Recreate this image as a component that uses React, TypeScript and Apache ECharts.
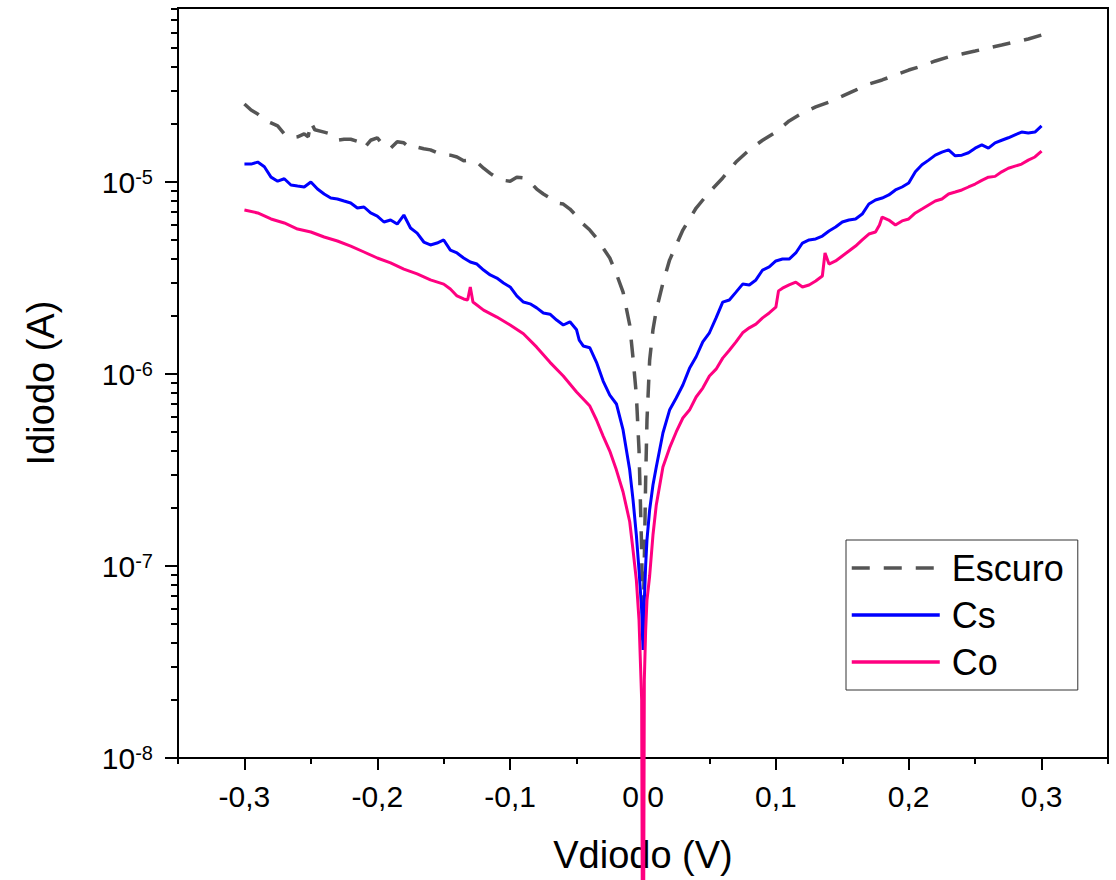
import React, { useEffect, useRef } from 'react';
import * as echarts from 'echarts';

const FONT = '"Liberation Sans", Arial, Helvetica, sans-serif';

const seriesNames = ['Escuro', 'Cs', 'Co'];
const seriesColors = ['#555555', '#0000ff', '#ff0080'];
const xMajorTicks = [-0.3, -0.2, -0.1, 0, 0.1, 0.2, 0.3];
const xMinorTicks = [-0.35, -0.25, -0.15, -0.05, 0.05, 0.15, 0.25, 0.35];
const yDecades = [1e-8, 1e-7, 1e-6, 1e-5];
const yMinorMultipliers = [2, 3, 4, 5, 6, 7, 8, 9];
const xRange = [-0.35, 0.35];
const yRange = [1e-8, 8.06e-5];

// [Vdiodo (V), Idiodo (A)]
const escuro: [number, number][] = [
  [-0.30, 2.55e-5], [-0.295, 2.37e-5], [-0.29, 2.26e-5], [-0.285, 2.10e-5], [-0.28, 2.03e-5],
  [-0.275, 1.96e-5], [-0.27, 1.78e-5], [-0.265, 1.70e-5], [-0.26, 1.72e-5], [-0.255, 1.78e-5],
  [-0.252, 1.72e-5], [-0.25, 2.05e-5], [-0.247, 1.87e-5], [-0.24, 1.82e-5], [-0.235, 1.78e-5],
  [-0.23, 1.65e-5], [-0.225, 1.67e-5], [-0.22, 1.67e-5], [-0.215, 1.63e-5], [-0.21, 1.50e-5],
  [-0.205, 1.65e-5], [-0.20, 1.70e-5], [-0.195, 1.54e-5], [-0.19, 1.50e-5], [-0.185, 1.62e-5],
  [-0.18, 1.60e-5], [-0.175, 1.50e-5], [-0.17, 1.52e-5], [-0.165, 1.49e-5], [-0.16, 1.47e-5],
  [-0.155, 1.42e-5], [-0.15, 1.38e-5], [-0.145, 1.38e-5], [-0.14, 1.35e-5], [-0.135, 1.29e-5],
  [-0.13, 1.30e-5], [-0.125, 1.27e-5], [-0.12, 1.18e-5], [-0.115, 1.11e-5], [-0.11, 1.05e-5],
  [-0.105, 1.02e-5], [-0.10, 1.01e-5], [-0.095, 1.06e-5], [-0.09, 1.05e-5], [-0.085, 1.00e-5],
  [-0.08, 9.19e-6], [-0.075, 8.66e-6], [-0.07, 8.25e-6], [-0.065, 7.77e-6], [-0.06, 7.68e-6],
  [-0.055, 7.23e-6], [-0.05, 6.65e-6], [-0.045, 6.04e-6], [-0.04, 5.62e-6], [-0.035, 5.11e-6],
  [-0.03, 4.53e-6], [-0.025, 4.02e-6], [-0.02, 3.32e-6], [-0.015, 2.67e-6], [-0.01, 1.80e-6],
  [-0.0075, 1.21e-6], [-0.005, 7.77e-7], [-0.003, 4.02e-7], [-0.001, 1.21e-7], [0, 4.1e-8],
  [0.001, 1.075e-7], [0.002, 2.81e-7], [0.003, 5.76e-7], [0.005, 1.18e-6], [0.0075, 1.70e-6],
  [0.01, 2.15e-6], [0.015, 2.98e-6], [0.02, 3.92e-6], [0.03, 5.62e-6], [0.04, 7.32e-6],
  [0.05, 8.87e-6], [0.06, 1.05e-5], [0.07, 1.27e-5], [0.08, 1.47e-5], [0.09, 1.65e-5],
  [0.10, 1.82e-5], [0.11, 2.08e-5], [0.12, 2.29e-5], [0.13, 2.46e-5], [0.14, 2.61e-5],
  [0.15, 2.80e-5], [0.16, 3.01e-5], [0.17, 3.24e-5], [0.18, 3.40e-5], [0.19, 3.61e-5],
  [0.20, 3.83e-5], [0.21, 4.02e-5], [0.22, 4.27e-5], [0.23, 4.48e-5], [0.24, 4.64e-5],
  [0.25, 4.81e-5], [0.26, 4.99e-5], [0.27, 5.17e-5], [0.28, 5.36e-5], [0.29, 5.56e-5],
  [0.30, 5.83e-5],
];

const cs: [number, number][] = [
  [-0.30, 1.24e-5], [-0.295, 1.24e-5], [-0.29, 1.27e-5], [-0.285, 1.20e-5], [-0.28, 1.06e-5],
  [-0.275, 1.01e-5], [-0.27, 1.04e-5], [-0.265, 9.65e-6], [-0.26, 9.53e-6], [-0.255, 9.42e-6],
  [-0.25, 1.00e-5], [-0.245, 9.19e-6], [-0.24, 8.66e-6], [-0.235, 8.25e-6], [-0.23, 8.16e-6],
  [-0.225, 7.96e-6], [-0.22, 7.77e-6], [-0.215, 7.32e-6], [-0.21, 7.41e-6], [-0.205, 6.90e-6],
  [-0.20, 6.65e-6], [-0.195, 6.19e-6], [-0.19, 6.34e-6], [-0.185, 6.04e-6], [-0.18, 6.73e-6],
  [-0.175, 5.76e-6], [-0.17, 5.42e-6], [-0.165, 4.87e-6], [-0.16, 4.70e-6], [-0.155, 4.81e-6],
  [-0.15, 4.99e-6], [-0.145, 4.42e-6], [-0.14, 4.27e-6], [-0.135, 4.02e-6], [-0.13, 3.83e-6],
  [-0.125, 3.74e-6], [-0.12, 3.48e-6], [-0.115, 3.28e-6], [-0.11, 3.16e-6], [-0.105, 2.98e-6],
  [-0.10, 2.84e-6], [-0.095, 2.55e-6], [-0.09, 2.37e-6], [-0.085, 2.32e-6], [-0.08, 2.21e-6],
  [-0.075, 2.08e-6], [-0.07, 2.05e-6], [-0.065, 1.91e-6], [-0.06, 1.80e-6], [-0.055, 1.87e-6],
  [-0.05, 1.70e-6], [-0.048, 1.50e-6], [-0.045, 1.40e-6], [-0.04, 1.37e-6], [-0.035, 1.15e-6],
  [-0.03, 9.19e-7], [-0.025, 7.77e-7], [-0.02, 6.98e-7], [-0.015, 5.11e-7], [-0.01, 3.16e-7],
  [-0.0075, 2.21e-7], [-0.005, 1.45e-7], [-0.003, 9.53e-8], [-0.001, 5.90e-8], [0, 3.65e-8],
  [0.001, 6.65e-8], [0.002, 1.01e-7], [0.003, 1.37e-7], [0.005, 1.96e-7], [0.0075, 2.64e-7],
  [0.01, 3.28e-7], [0.015, 4.93e-7], [0.02, 6.49e-7], [0.025, 7.50e-7], [0.03, 8.76e-7],
  [0.035, 1.07e-6], [0.04, 1.23e-6], [0.045, 1.47e-6], [0.05, 1.64e-6], [0.055, 1.96e-6],
  [0.06, 2.37e-6], [0.065, 2.43e-6], [0.07, 2.67e-6], [0.075, 2.94e-6], [0.08, 2.91e-6],
  [0.085, 3.09e-6], [0.09, 3.48e-6], [0.095, 3.61e-6], [0.10, 3.88e-6], [0.105, 3.97e-6],
  [0.11, 3.97e-6], [0.115, 4.27e-6], [0.12, 4.81e-6], [0.125, 4.99e-6], [0.13, 5.05e-6],
  [0.135, 5.23e-6], [0.14, 5.56e-6], [0.145, 5.83e-6], [0.15, 6.19e-6], [0.155, 6.34e-6],
  [0.16, 6.42e-6], [0.165, 6.81e-6], [0.17, 7.68e-6], [0.175, 8.06e-6], [0.18, 8.25e-6],
  [0.185, 8.56e-6], [0.19, 9.09e-6], [0.195, 9.42e-6], [0.20, 9.88e-6], [0.205, 1.13e-5],
  [0.21, 1.23e-5], [0.215, 1.30e-5], [0.22, 1.38e-5], [0.225, 1.43e-5], [0.23, 1.47e-5],
  [0.235, 1.37e-5], [0.24, 1.38e-5], [0.245, 1.42e-5], [0.25, 1.50e-5], [0.255, 1.56e-5],
  [0.26, 1.50e-5], [0.265, 1.60e-5], [0.27, 1.65e-5], [0.275, 1.70e-5], [0.28, 1.76e-5],
  [0.285, 1.82e-5], [0.29, 1.80e-5], [0.295, 1.82e-5], [0.30, 1.96e-5],
];

const co: [number, number][] = [
  [-0.30, 7.15e-6], [-0.29, 6.90e-6], [-0.28, 6.42e-6], [-0.27, 6.12e-6], [-0.26, 5.69e-6],
  [-0.25, 5.49e-6], [-0.24, 5.17e-6], [-0.23, 4.93e-6], [-0.22, 4.64e-6], [-0.21, 4.32e-6],
  [-0.20, 4.02e-6], [-0.19, 3.79e-6], [-0.18, 3.52e-6], [-0.17, 3.32e-6], [-0.16, 3.09e-6],
  [-0.15, 2.94e-6], [-0.145, 2.77e-6], [-0.14, 2.55e-6], [-0.135, 2.46e-6], [-0.132, 2.43e-6],
  [-0.13, 2.84e-6], [-0.128, 2.37e-6], [-0.12, 2.15e-6], [-0.11, 1.98e-6], [-0.10, 1.80e-6],
  [-0.09, 1.62e-6], [-0.08, 1.38e-6], [-0.07, 1.15e-6], [-0.06, 9.76e-7], [-0.05, 8.06e-7],
  [-0.04, 6.81e-7], [-0.035, 5.76e-7], [-0.03, 4.75e-7], [-0.025, 3.97e-7], [-0.02, 3.16e-7],
  [-0.015, 2.43e-7], [-0.01, 1.70e-7], [-0.0075, 1.21e-7], [-0.005, 8.45e-8], [-0.003, 5.23e-8],
  [-0.001, 2.0e-8], [0, 1e-10],
  [0.001, 2.55e-8], [0.002, 4.64e-8], [0.003, 6.65e-8], [0.005, 8.87e-8], [0.0075, 1.45e-7],
  [0.01, 2.08e-7], [0.015, 3.28e-7], [0.02, 4.12e-7], [0.025, 4.99e-7], [0.03, 5.90e-7],
  [0.035, 6.49e-7], [0.04, 7.59e-7], [0.045, 8.45e-7], [0.05, 9.76e-7], [0.055, 1.06e-6],
  [0.06, 1.21e-6], [0.065, 1.33e-6], [0.07, 1.47e-6], [0.075, 1.64e-6], [0.08, 1.74e-6],
  [0.085, 1.82e-6], [0.09, 1.96e-6], [0.095, 2.08e-6], [0.10, 2.23e-6], [0.102, 2.71e-6],
  [0.105, 2.80e-6], [0.11, 2.91e-6], [0.115, 3.01e-6], [0.12, 2.84e-6], [0.125, 2.91e-6],
  [0.13, 3.05e-6], [0.135, 3.24e-6], [0.137, 4.27e-6], [0.14, 3.74e-6], [0.145, 3.88e-6],
  [0.15, 4.12e-6], [0.155, 4.37e-6], [0.16, 4.64e-6], [0.165, 4.99e-6], [0.17, 5.36e-6],
  [0.175, 5.49e-6], [0.178, 5.97e-6], [0.18, 6.57e-6], [0.185, 6.34e-6], [0.19, 5.97e-6],
  [0.195, 6.27e-6], [0.20, 6.42e-6], [0.205, 6.90e-6], [0.21, 7.23e-6], [0.215, 7.59e-6],
  [0.22, 7.96e-6], [0.225, 8.16e-6], [0.23, 8.66e-6], [0.235, 8.87e-6], [0.24, 9.09e-6],
  [0.245, 9.42e-6], [0.25, 9.76e-6], [0.255, 1.02e-5], [0.26, 1.06e-5], [0.265, 1.07e-5],
  [0.27, 1.13e-5], [0.275, 1.18e-5], [0.28, 1.21e-5], [0.285, 1.24e-5], [0.29, 1.30e-5],
  [0.295, 1.35e-5], [0.30, 1.45e-5],
];

const seriesData = [escuro, cs, co];

const lg = (v: number) => Math.log10(v);

function buildOption(): any {
  const yMajor = yDecades.map(lg);
  const yMinor = yDecades.flatMap((d) => yMinorMultipliers.map((k) => lg(k * d)));
  const yMin = lg(yRange[0]);
  const yMax = lg(yRange[1]);
  const black = { color: '#000', width: 2 };

  return {
    animation: false,
    backgroundColor: '#ffffff',
    grid: {
      left: 178, right: 8, top: 8, bottom: 122,
      show: true, borderColor: '#000', borderWidth: 2, backgroundColor: 'transparent',
    },
    xAxis: [
      {
        type: 'value', min: xRange[0], max: xRange[1],
        name: 'Vdiodo (V)', nameLocation: 'middle', nameGap: 78,
        nameTextStyle: { fontSize: 38, color: '#000', fontFamily: FONT },
        axisLine: { show: true, onZero: false, lineStyle: black },
        axisTick: { show: true, inside: false, length: 12, lineStyle: black, customValues: xMajorTicks },
        axisLabel: {
          customValues: xMajorTicks, margin: 23, fontSize: 30, color: '#000', fontFamily: FONT,
          formatter: (v: number) => (Math.abs(v) < 1e-9 ? '0,0' : v.toFixed(1).replace('.', ',')),
        },
        splitLine: { show: false },
      },
      {
        type: 'value', min: xRange[0], max: xRange[1], position: 'bottom',
        axisLine: { show: false, onZero: false },
        axisTick: { show: true, inside: false, length: 6, lineStyle: black, customValues: xMinorTicks },
        axisLabel: { show: false },
        splitLine: { show: false },
      },
    ],
    yAxis: [
      {
        type: 'value', min: yMin, max: yMax,
        name: 'Idiodo (A)', nameLocation: 'middle', nameGap: 118,
        nameTextStyle: { fontSize: 38, color: '#000', fontFamily: FONT },
        axisLine: { show: true, onZero: false, lineStyle: black },
        axisTick: { show: true, inside: false, length: 13, lineStyle: black, customValues: yMajor },
        axisLabel: {
          customValues: yMajor, margin: 25, color: '#000', fontFamily: FONT,
          formatter: (v: number) => `{b|10}{s|${Math.round(v)}}`,
          rich: {
            b: { fontSize: 30, fontFamily: FONT, color: '#000', lineHeight: 30 },
            s: { fontSize: 20, fontFamily: FONT, color: '#000', lineHeight: 20, verticalAlign: 'top' },
          },
        },
        splitLine: { show: false },
      },
      {
        type: 'value', min: yMin, max: yMax, position: 'left',
        axisLine: { show: false, onZero: false },
        axisTick: { show: true, inside: false, length: 7, lineStyle: black, customValues: yMinor },
        axisLabel: { show: false },
        splitLine: { show: false },
      },
    ],
    legend: {
      orient: 'vertical', left: 846, top: 540,
      padding: [10, 14, 10, 4], itemGap: 11, itemWidth: 88, itemHeight: 12,
      borderColor: '#333', borderWidth: 1, backgroundColor: '#fff',
      itemStyle: { opacity: 0, borderWidth: 0 },
      lineStyle: { width: 3.5 },
      textStyle: { fontSize: 36, color: '#000', fontFamily: FONT, padding: [0, 0, 0, 7] },
      data: seriesNames,
    },
    series: seriesNames.map((name, i) => ({
      name,
      type: 'line',
      xAxisIndex: 0,
      yAxisIndex: 0,
      data: seriesData[i].map(([v, a]) => [v, lg(a)]),
      showSymbol: false,
      symbol: 'none',
      clip: false,
      silent: true,
      z: 2 + i,
      color: seriesColors[i],
      itemStyle: { color: seriesColors[i] },
      lineStyle: i === 0
        ? { color: seriesColors[i], width: 3.5, type: [18, 14] }
        : { color: seriesColors[i], width: 3 },
      emphasis: { disabled: true },
    })),
  };
}

export default function App() {
  const ref = useRef<HTMLDivElement>(null);
  useEffect(() => {
    if (!ref.current) return;
    const chart = echarts.init(ref.current, undefined, { renderer: 'svg' });
    chart.setOption(buildOption());
    return () => chart.dispose();
  }, []);
  return (
    <div
      ref={ref}
      style={{ position: 'fixed', left: 0, top: 0, width: 1116, height: 880, background: '#fff' }}
    />
  );
}
